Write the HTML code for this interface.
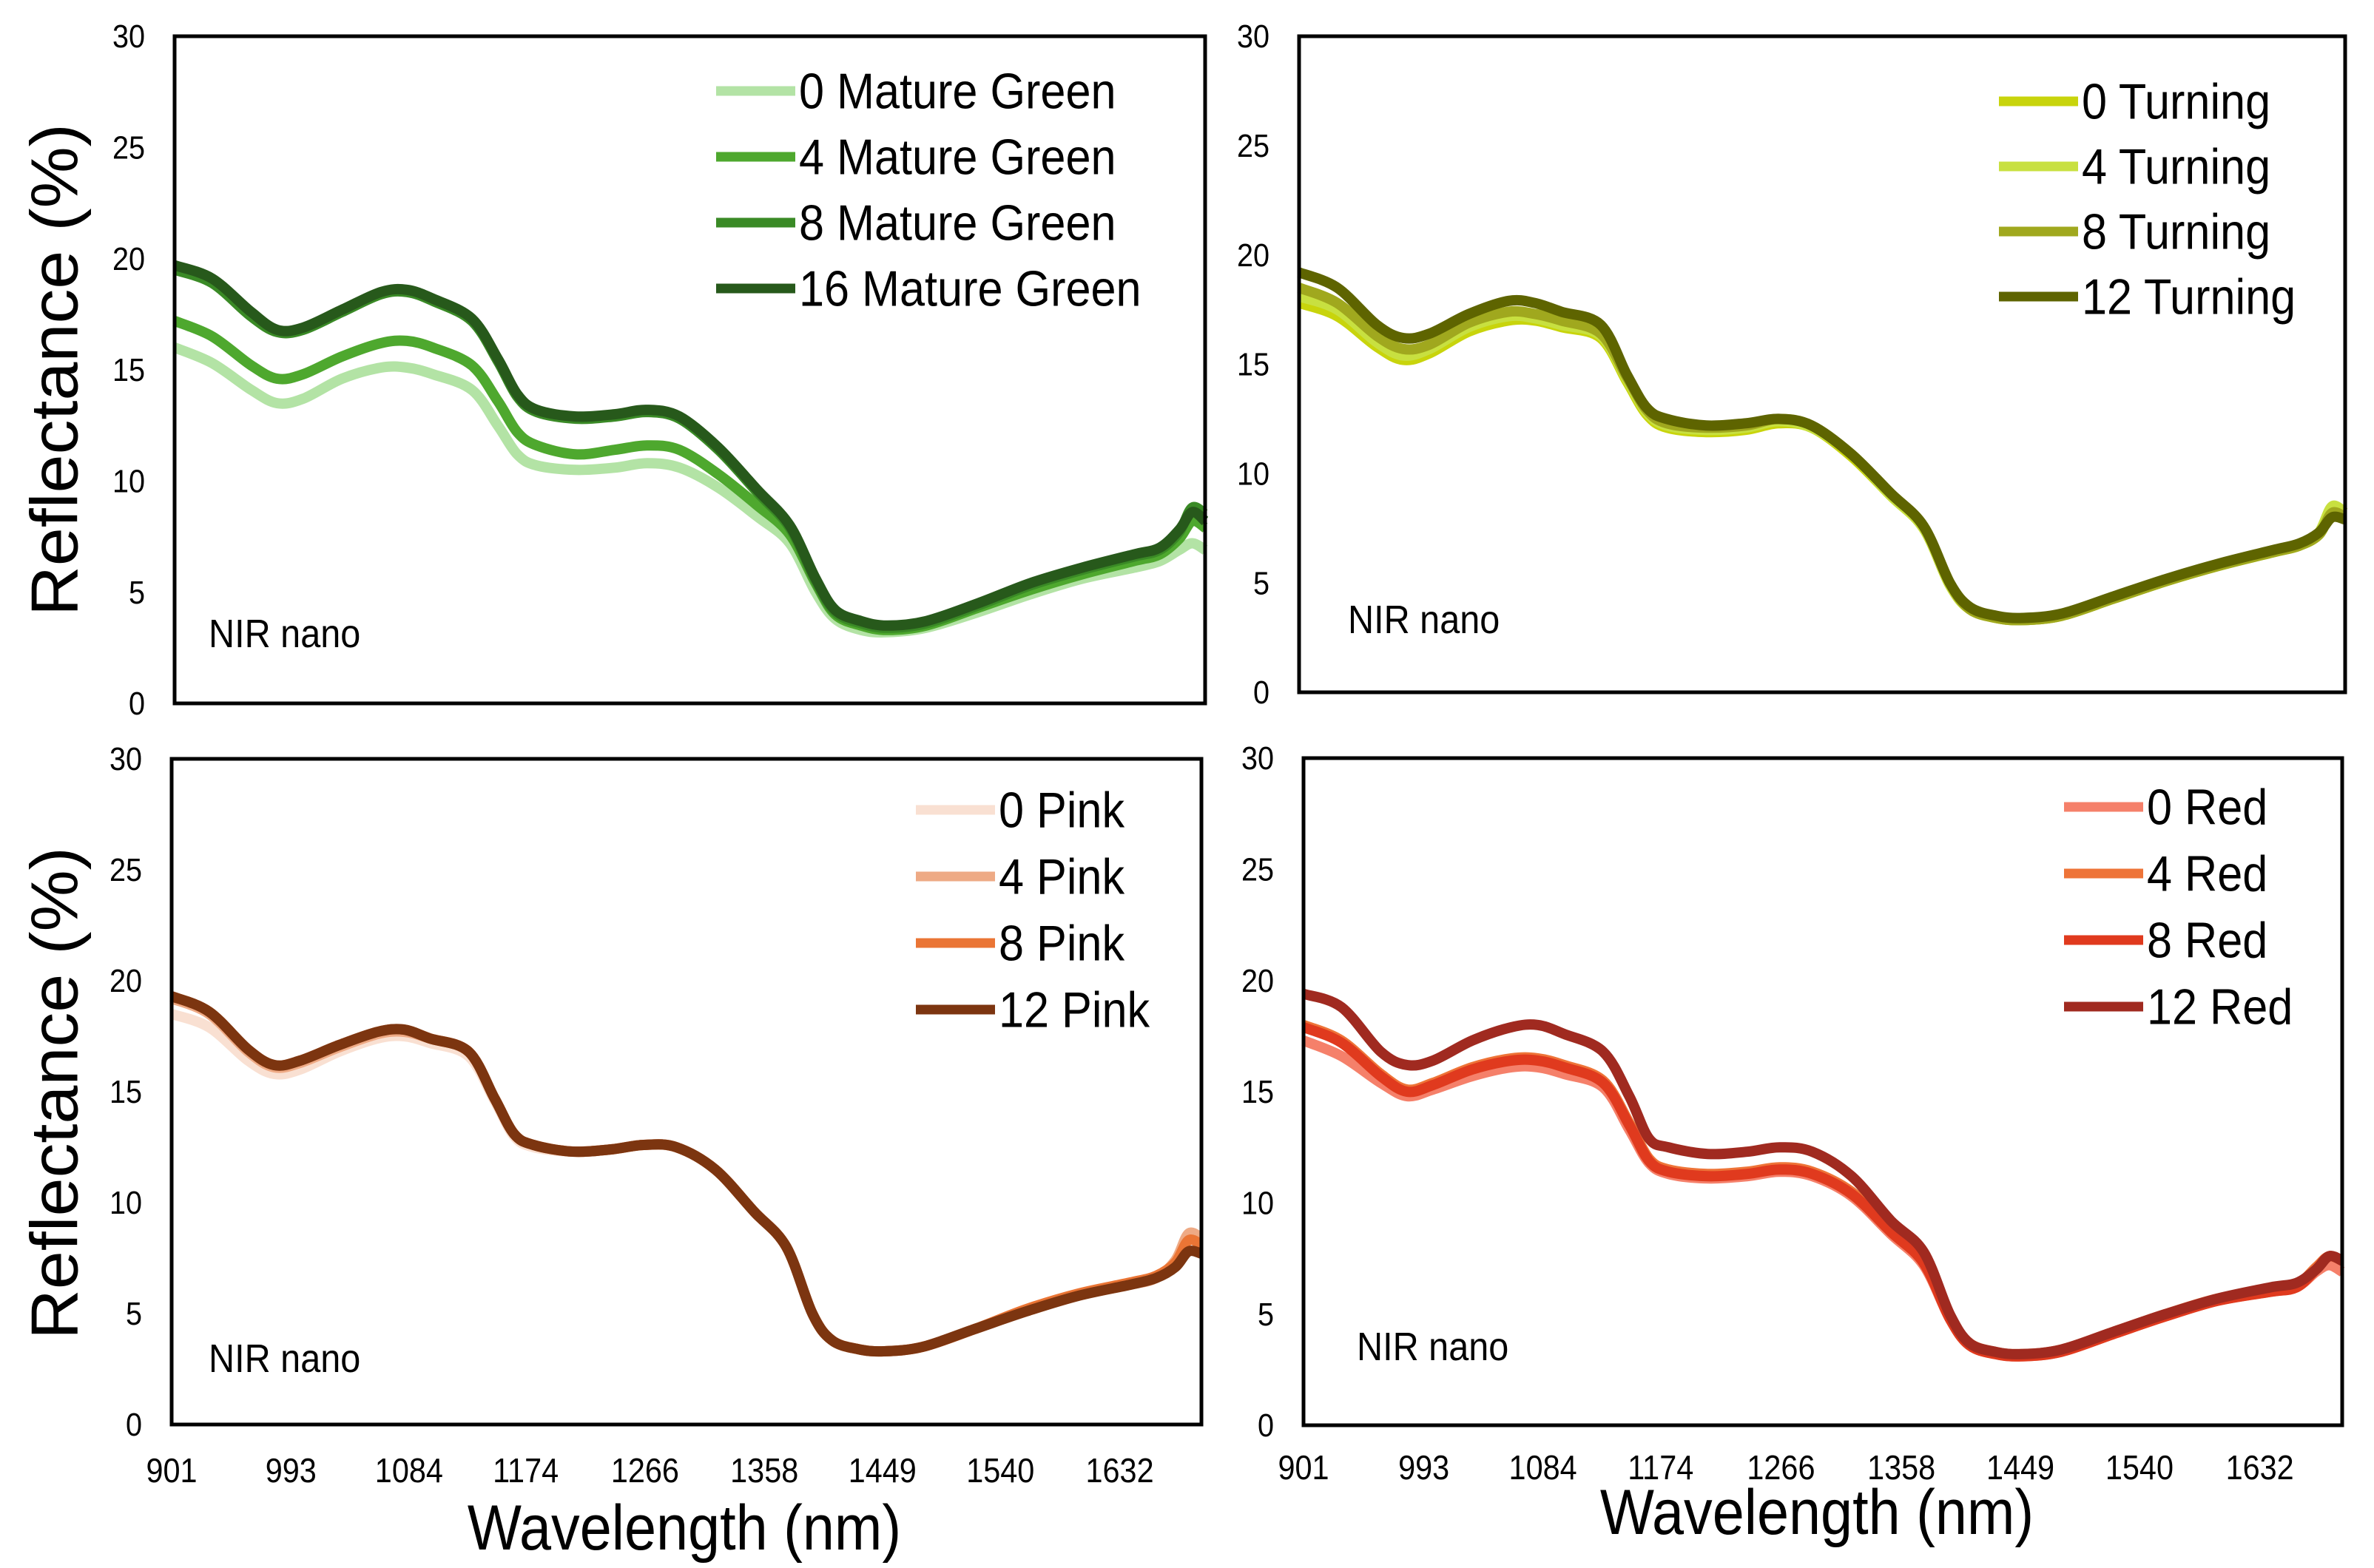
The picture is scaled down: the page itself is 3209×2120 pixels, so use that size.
<!DOCTYPE html>
<html><head><meta charset="utf-8">
<style>
html,body{margin:0;padding:0;background:#fff;}
svg{display:block;}
text{font-family:"Liberation Sans",sans-serif;fill:#000;}
</style></head>
<body>
<svg id="chart" xmlns="http://www.w3.org/2000/svg" width="3209" height="2120" viewBox="0 0 3209 2120">
<rect width="3209" height="2120" fill="#fff"/>
</svg>
<script>
const wavelengths = [901,930,960,980,1000,1030,1060,1080,1100,1130,1150,1165,1180,1210,1240,1265,1290,1320,1350,1375,1395,1410,1430,1450,1480,1520,1560,1600,1640,1660,1675,1685,1695];
const xTickLabels = [901,993,1084,1174,1266,1358,1449,1540,1632];
const yTicks = [0,5,10,15,20,25,30];

const mg0  = [16.0,15.3,14.1,13.5,13.7,14.6,15.1,15.1,14.8,14.1,12.5,11.2,10.7,10.5,10.6,10.8,10.6,9.7,8.4,7.2,5.0,3.8,3.3,3.2,3.4,4.1,4.9,5.6,6.1,6.4,6.9,7.2,6.9];
const mg4  = [17.2,16.5,15.2,14.6,14.8,15.6,16.2,16.3,16.0,15.2,13.6,12.2,11.6,11.2,11.4,11.6,11.4,10.3,8.9,7.6,5.4,4.0,3.5,3.3,3.5,4.3,5.1,5.8,6.4,6.7,7.4,8.2,7.9];
const mg8  = [19.5,18.9,17.4,16.7,16.8,17.6,18.4,18.5,18.1,17.2,15.4,13.8,13.1,12.8,12.9,13.1,12.8,11.4,9.5,7.9,5.5,4.1,3.6,3.4,3.6,4.4,5.3,6.0,6.6,6.9,7.7,8.8,8.5];
const mg16 = [19.7,19.1,17.6,16.8,16.9,17.7,18.5,18.6,18.2,17.3,15.5,13.9,13.2,12.9,13.0,13.2,12.9,11.5,9.6,8.0,5.6,4.2,3.7,3.5,3.7,4.5,5.4,6.1,6.7,7.0,7.8,8.6,8.2];

const t0  = [17.8,17.2,15.8,15.2,15.5,16.5,17.0,17.0,16.7,16.2,14.2,12.7,12.1,11.9,12.0,12.3,12.1,10.8,9.0,7.5,4.9,3.8,3.4,3.3,3.5,4.3,5.1,5.8,6.4,6.7,7.2,8.2,8.0];
const t4  = [18.1,17.5,16.0,15.4,15.7,16.7,17.2,17.1,16.8,16.3,14.3,12.8,12.2,12.0,12.1,12.4,12.1,10.9,9.0,7.5,4.9,3.8,3.4,3.3,3.5,4.3,5.1,5.8,6.4,6.7,7.3,8.5,8.2];
const t8  = [18.5,17.8,16.3,15.7,15.9,16.9,17.4,17.3,17.0,16.4,14.4,12.9,12.3,12.1,12.2,12.5,12.2,10.9,9.1,7.6,5.0,3.8,3.4,3.3,3.5,4.3,5.1,5.8,6.4,6.7,7.2,8.2,8.0];
const t12 = [19.2,18.5,16.8,16.2,16.4,17.3,17.9,17.8,17.4,16.8,14.5,13.0,12.5,12.2,12.3,12.5,12.2,10.9,9.1,7.6,5.0,3.9,3.5,3.4,3.6,4.4,5.2,5.9,6.5,6.8,7.3,8.0,7.9];

const p0  = [18.5,17.9,16.4,15.8,16.0,16.8,17.4,17.5,17.2,16.6,14.6,13.0,12.5,12.3,12.4,12.6,12.5,11.5,9.6,8.0,5.0,3.8,3.4,3.3,3.5,4.3,5.1,5.8,6.3,6.6,7.4,8.5,8.3];
const p4  = [19.2,18.5,16.8,16.1,16.3,17.0,17.6,17.7,17.4,16.8,14.7,13.1,12.6,12.3,12.4,12.6,12.5,11.5,9.6,8.0,5.0,3.8,3.4,3.3,3.5,4.3,5.1,5.8,6.3,6.6,7.4,8.6,8.4];
const p8  = [19.3,18.6,16.9,16.2,16.4,17.1,17.7,17.8,17.4,16.8,14.7,13.1,12.6,12.3,12.4,12.6,12.5,11.5,9.6,8.0,5.0,3.8,3.4,3.3,3.5,4.3,5.2,5.9,6.4,6.7,7.3,8.3,8.1];
const p12 = [19.3,18.6,16.9,16.2,16.4,17.1,17.7,17.8,17.4,16.8,14.7,13.1,12.6,12.3,12.4,12.6,12.5,11.5,9.6,8.0,5.0,3.8,3.4,3.3,3.5,4.3,5.1,5.8,6.3,6.6,7.1,7.8,7.7];

const r0  = [17.3,16.6,15.4,14.8,15.1,15.7,16.1,16.1,15.8,15.2,13.3,11.8,11.3,11.1,11.2,11.4,11.2,10.3,8.6,7.2,4.8,3.6,3.2,3.1,3.3,4.1,4.9,5.6,6.0,6.2,6.9,7.2,6.9];
const r4  = [18.0,17.3,15.8,15.1,15.4,16.1,16.5,16.5,16.2,15.5,13.6,12.0,11.5,11.3,11.4,11.6,11.4,10.5,8.8,7.4,4.9,3.7,3.3,3.2,3.4,4.2,5.0,5.7,6.1,6.3,7.1,7.6,7.4];
const r8  = [17.9,17.2,15.7,15.0,15.3,16.0,16.4,16.4,16.1,15.4,13.5,11.9,11.4,11.2,11.3,11.5,11.3,10.4,8.7,7.3,4.8,3.6,3.2,3.1,3.3,4.1,4.9,5.6,6.0,6.2,7.0,7.6,7.4];
const r12 = [19.4,18.8,16.8,16.2,16.4,17.3,17.9,18.0,17.6,16.8,14.8,12.9,12.5,12.2,12.3,12.5,12.3,11.2,9.2,7.8,5.0,3.7,3.3,3.2,3.4,4.2,5.0,5.7,6.2,6.4,7.0,7.6,7.4];

const NS = "http://www.w3.org/2000/svg";
const svg = document.getElementById('chart');
const WMIN = 901, WMAX = 1695;

function el(tag, attrs, parent){
  const e = document.createElementNS(NS, tag);
  for (const k in attrs) e.setAttribute(k, attrs[k]);
  (parent||svg).appendChild(e);
  return e;
}
function narrowText(str, x, y, size, anchor, sx, parent){
  const g = el('g', {transform:`translate(${x},${y}) scale(${sx},1)`}, parent);
  const t = el('text', {x:0, y:0, 'font-size':size, 'text-anchor':anchor, 'dominant-baseline':'central'}, g);
  t.textContent = str;
  return t;
}
function smoothPath(pts){
  let d = 'M' + pts[0][0].toFixed(1) + ',' + pts[0][1].toFixed(1);
  for (let i = 0; i < pts.length - 1; i++) {
    const p0 = pts[i-1] || pts[i], p1 = pts[i], p2 = pts[i+1], p3 = pts[i+2] || p2;
    const c1 = [p1[0] + (p2[0]-p0[0])/6, p1[1] + (p2[1]-p0[1])/6];
    const c2 = [p2[0] - (p3[0]-p1[0])/6, p2[1] - (p3[1]-p1[1])/6];
    d += ` C${c1[0].toFixed(1)},${c1[1].toFixed(1)} ${c2[0].toFixed(1)},${c2[1].toFixed(1)} ${p2[0].toFixed(1)},${p2[1].toFixed(1)}`;
  }
  return d;
}

function panel(cfg){
  const {name, L, R, T, B, series, names, colors, leg, nir, showX, yTitleY, xTitle} = cfg;
  const g = el('g', {});
  
  
  const xs = w => L + (w - WMIN) / (WMAX - WMIN) * (R - L);
  const ys = v => B - v / 30 * (B - T);
  yTicks.forEach(v => {
    const t = narrowText(String(v), L - 40, ys(v), 44, 'end', 0.9, g);
    
    
  });
  if (showX) {
    xTickLabels.forEach(w => {
      const t = narrowText(String(w), xs(w), cfg.xTickY, 46, 'middle', 0.9, g);
      
      
    });
  }
  series.forEach((s, i) => {
    const pts = s.map((v, j) => [xs(wavelengths[j]), ys(v)]);
    const p = el('path', {d:smoothPath(pts), fill:'none', stroke:colors[i], 'stroke-width':14, 'stroke-linejoin':'round', 'stroke-linecap':'butt'}, g);
    
    
  });
  const f = el('rect', {x:L, y:T, width:R-L, height:B-T, fill:'none', stroke:'#000', 'stroke-width':5}, g);
  
  
  names.forEach((n, i) => {
    const y = leg.y0 + i * leg.dy;
    const ln = el('line', {x1:leg.x, x2:leg.x + 107, y1:y, y2:y, stroke:colors[i], 'stroke-width':13}, g);
    
    
    const t = narrowText(n, leg.x + 112, y, 68, 'start', 0.9, g);
    
    
  });
  const nt = narrowText('NIR nano', nir[0], nir[1], 54, 'start', 0.9, g);
  
  
  if (yTitleY) {
    const yt = el('text', {x:0, y:0, 'font-size':90, 'text-anchor':'middle', 'dominant-baseline':'central', transform:`translate(74,${yTitleY}) rotate(-90) scale(1.04,1)`}, g);
    yt.textContent = 'Reflectance (%)';
    
    
  }
  if (xTitle) {
    const xt = narrowText('Wavelength (nm)', xTitle[0], xTitle[1], 86, 'middle', 0.9, g);
    
    
  }
}

panel({name:'panel-mature-green', L:236, R:1629, T:49, B:951,
  series:[mg0,mg4,mg8,mg16], names:['0 Mature Green','4 Mature Green','8 Mature Green','16 Mature Green'],
  colors:['#b3e3a5','#4ea82e','#3a8a26','#27591b'],
  leg:{x:968, y0:123, dy:89}, nir:[282,856], showX:false, yTitleY:500});
panel({name:'panel-turning', L:1756, R:3170, T:49, B:936,
  series:[t0,t4,t8,t12], names:['0 Turning','4 Turning','8 Turning','12 Turning'],
  colors:['#c8d40c','#c8e040','#a0a81e','#5e6400'],
  leg:{x:2702, y0:137, dy:88}, nir:[1822,837], showX:false});
panel({name:'panel-pink', L:232, R:1624, T:1026, B:1926,
  series:[p0,p4,p8,p12], names:['0 Pink','4 Pink','8 Pink','12 Pink'],
  colors:['#f9e0d2','#eeaa85','#ea7535','#7c3510'],
  leg:{x:1238, y0:1095, dy:90}, nir:[282,1836], showX:true, xTickY:1989, yTitleY:1478, xTitle:[925,2066]});
panel({name:'panel-red', L:1762, R:3166, T:1025, B:1927,
  series:[r0,r4,r8,r12], names:['0 Red','4 Red','8 Red','12 Red'],
  colors:['#f5806a','#ee7438','#e03a1e','#a02a20'],
  leg:{x:2790, y0:1091, dy:90}, nir:[1834,1820], showX:true, xTickY:1985, xTitle:[2456,2045]});
</script>
</body></html>
